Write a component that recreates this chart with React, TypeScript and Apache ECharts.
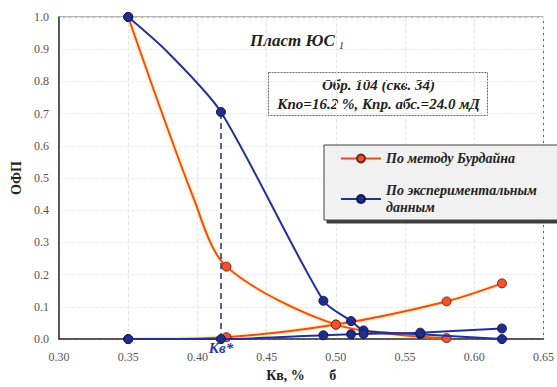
import React, { useEffect, useRef } from "react";
import * as echarts from "echarts";

const xTicks = [0.3, 0.35, 0.4, 0.45, 0.5, 0.55, 0.6, 0.65];
// Burdine method: decreasing (oil) and increasing (water) curves
const redDownX = [0.35, 0.397, 0.421, 0.5, 0.58];
const redDownY = [1.0, 0.44, 0.225, 0.045, 0.003];
const redDownMarked = [true, false, true, true, true];
const redUpX = [0.35, 0.421, 0.5, 0.58, 0.62];
const redUpY = [0.0, 0.006, 0.045, 0.117, 0.173];
// Experimental data
const blueDownX = [0.35, 0.378, 0.417, 0.491, 0.511, 0.52, 0.561, 0.62];
const blueDownY = [1.0, 0.893, 0.705, 0.119, 0.056, 0.027, 0.015, 0.0];
const blueDownMarked = [true, false, true, true, true, true, true, true];
const blueUpX = [0.35, 0.417, 0.491, 0.511, 0.52, 0.561, 0.62];
const blueUpY = [0.0, 0.0, 0.012, 0.015, 0.016, 0.02, 0.033];
const kvStar = 0.417;
const kvStarTop = 0.705;

const redName = "По методу Бурдайна";
const blueName = "По экспериментальным данным";
const serif = "Liberation Serif";

const pairs = (xs: number[], ys: number[], marked?: boolean[]) =>
  xs.map((x, i) =>
    marked && !marked[i] ? { value: [x, ys[i]], symbol: "none" } : [x, ys[i]]
  );

export default function App() {
  const ref = useRef<HTMLDivElement>(null);
  useEffect(() => {
    document.body.style.margin = "0";
    if (!ref.current) return;
    const chart = echarts.init(ref.current, null, { renderer: "svg" });
    const redStyle = {
      type: "line" as const,
      name: redName,
      smooth: 0.3,
      symbol: "circle",
      symbolSize: 9,
      itemStyle: { color: "#f5502a", borderColor: "#6a2a1a", borderWidth: 1 },
      lineStyle: {
        color: "#f04a22",
        width: 2,
        shadowColor: "rgba(250,190,0,0.7)",
        shadowBlur: 3,
      },
      z: 3,
    };
    const blueStyle = {
      type: "line" as const,
      name: blueName,
      smooth: 0.25,
      symbol: "circle",
      symbolSize: 9,
      itemStyle: { color: "#1f2d8c", borderColor: "#10185a", borderWidth: 1 },
      lineStyle: { color: "#22309a", width: 2 },
      z: 4,
    };
    chart.setOption({
      animation: false,
      backgroundColor: "#ffffff",
      grid: {
        left: 59,
        top: 17,
        right: 10,
        bottom: 43,
        show: true,
        borderColor: "#666",
        borderWidth: 1,
      },
      xAxis: {
        type: "value",
        min: xTicks[0],
        max: xTicks[xTicks.length - 1],
        interval: 0.05,
        name: "Кв, %       б",
        nameLocation: "middle",
        nameGap: 27,
        nameTextStyle: { fontFamily: serif, fontWeight: "bold", fontSize: 14, color: "#222" },
        axisLine: { lineStyle: { color: "#333", width: 1.5 } },
        axisTick: { show: false },
        axisLabel: {
          fontFamily: serif,
          fontSize: 12,
          color: "#555",
          margin: 12,
          formatter: (v: number) => v.toFixed(2),
        },
        splitLine: { show: true, lineStyle: { color: "#e6e6e6", type: "dashed" } },
      },
      yAxis: {
        type: "value",
        min: 0,
        max: 1,
        interval: 0.1,
        name: "ОФП",
        nameLocation: "middle",
        nameGap: 32,
        nameTextStyle: { fontFamily: serif, fontWeight: "bold", fontSize: 14, color: "#222" },
        axisLine: { show: true, lineStyle: { color: "#333", width: 1.5 } },
        axisTick: { show: false },
        axisLabel: {
          fontFamily: serif,
          fontSize: 12,
          color: "#555",
          margin: 10,
          formatter: (v: number) => v.toFixed(1),
        },
        splitLine: { show: true, lineStyle: { color: "#ececec", type: "dashed" } },
      },
      legend: {
        orient: "vertical",
        left: 324,
        top: 145,
        padding: [5, 24, 4, 16],
        itemGap: 15,
        itemWidth: 40,
        itemHeight: 10,
        data: [redName, blueName],
        backgroundColor: "#f1f1f1",
        borderColor: "#444",
        borderWidth: 1,
        shadowColor: "rgba(40,40,40,0.9)",
        shadowBlur: 0,
        shadowOffsetX: 3,
        shadowOffsetY: 3,
        formatter: (n: string) => (n === blueName ? "По экспериментальным\nданным" : n),
        textStyle: {
          fontFamily: serif,
          fontStyle: "italic",
          fontWeight: "bold",
          fontSize: 14,
          color: "#222",
          lineHeight: 17,
        },
      },
      graphic: [
        {
          type: "text",
          left: 250,
          top: 32,
          style: {
            text: "{a|Пласт ЮС }{s|1}",
            rich: {
              a: { fontFamily: serif, fontStyle: "italic", fontWeight: "bold", fontSize: 17, fill: "#222" },
              s: { fontFamily: serif, fontStyle: "italic", fontSize: 10, fill: "#222", padding: [10, 0, 0, 0] },
            },
          },
        },
        {
          type: "group",
          left: 268,
          top: 72,
          children: [
            {
              type: "rect",
              shape: { x: 0, y: 0, width: 219, height: 43 },
              style: { fill: "#fff", stroke: "#666", lineWidth: 1, lineDash: [2, 1] },
            },
            {
              type: "text",
              x: 110,
              y: 12,
              style: {
                text: "Обр. 104 (скв. 34)",
                fontFamily: serif,
                fontStyle: "italic",
                fontWeight: "bold",
                fontSize: 15,
                fill: "#222",
                align: "center",
                verticalAlign: "middle",
              },
            },
            {
              type: "text",
              x: 110,
              y: 31,
              style: {
                text: "Кпо=16.2 %, Кпр. абс.=24.0 мД",
                fontFamily: serif,
                fontStyle: "italic",
                fontWeight: "bold",
                fontSize: 15,
                fill: "#222",
                align: "center",
                verticalAlign: "middle",
              },
            },
          ],
        },
      ],
      series: [
        { ...redStyle, data: pairs(redDownX, redDownY, redDownMarked) },
        { ...redStyle, data: pairs(redUpX, redUpY) },
        {
          ...blueStyle,
          data: pairs(blueDownX, blueDownY, blueDownMarked),
          markLine: {
            silent: true,
            symbol: "none",
            lineStyle: { color: "#2a3160", type: [6, 4], width: 1.5 },
            label: {
              show: true,
              position: "start",
              formatter: "Кв*",
              fontFamily: serif,
              fontStyle: "italic",
              fontWeight: "bold",
              fontSize: 15,
              color: "#2a3aa0",
              distance: 1,
            },
            data: [[{ coord: [kvStar, 0] }, { coord: [kvStar, kvStarTop] }]],
          },
        },
        { ...blueStyle, data: pairs(blueUpX, blueUpY) },
      ],
    });
    return () => chart.dispose();
  }, []);
  return <div ref={ref} style={{ width: 557, height: 387 }} />;
}
